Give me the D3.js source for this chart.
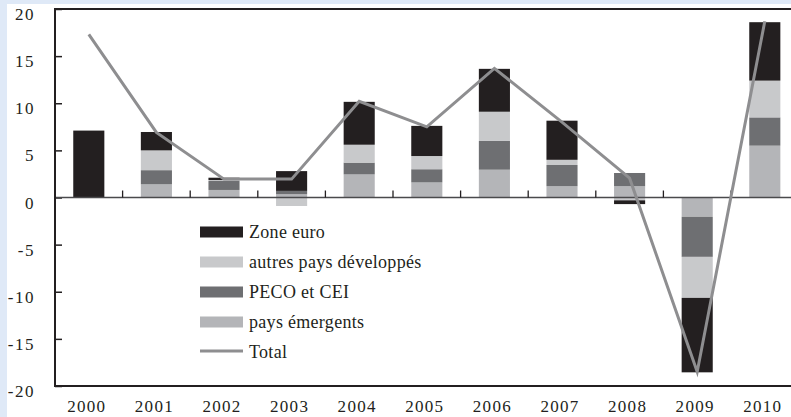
<!DOCTYPE html>
<html>
<head>
<meta charset="utf-8">
<script src="https://cdn.jsdelivr.net/npm/d3@7"></script>
<style>
	body { margin: 0; background: #dfe9f7; }
	svg { display: block; }
	text { font-family: "Liberation Serif", "DejaVu Serif", serif; fill: #231f20; }
</style>
</head>
<body>
<div class="container"></div>
<script>
// donnees
var years = [2000, 2001, 2002, 2003, 2004, 2005, 2006, 2007, 2008, 2009, 2010];
var zoneEuro  = [7.1, 1.95, 0.25, 2.1, 4.55, 3.2, 4.55, 4.15, -0.4, -7.9, 6.2];
var autresDev = [0, 2.1, 0.1, -0.9, 1.9, 1.4, 3.1, 0.55, -0.3, -4.35, 3.9];
var peco      = [0, 1.5, 0.95, 0.35, 1.25, 1.4, 3.05, 2.25, 1.4, -4.25, 3.0];
var emergents = [0, 1.4, 0.8, 0.35, 2.45, 1.6, 2.95, 1.2, 1.2, -2.05, 5.5];
var total     = [17.3, 6.9, 1.95, 1.95, 10.2, 7.5, 13.7, 8.0, 2.05, -18.5, 18.7];
var yTicks = [-20, -15, -10, -5, 0, 5, 10, 15, 20];

var series = [
	{key: 'emergents', label: 'pays émergents', color: '#b4b5b8', values: emergents},
	{key: 'peco', label: 'PECO et CEI', color: '#6e6f72', values: peco},
	{key: 'autres', label: 'autres pays développés', color: '#c8c9cb', values: autresDev},
	{key: 'zone', label: 'Zone euro', color: '#231f20', values: zoneEuro}
];

var width = 791, height = 417;
var plot = {left: 55, top: 9, bottom: 386, right: 55 + 11 * 67.6};

var rows = years.map(function(y, i) {
	var r = {year: y};
	series.forEach(function(s) { r[s.key] = s.values[i]; });
	return r;
});

var x = d3.scaleBand()
	.domain(years)
	.range([plot.left, plot.right])
	.paddingInner(0.54)
	.paddingOuter(0.27);

var y = d3.scaleLinear()
	.domain([-20, 20])
	.range([plot.bottom, plot.top]);

var stack = d3.stack()
	.keys(series.map(function(s) { return s.key; }))
	.offset(d3.stackOffsetDiverging);
var stacked = stack(rows);

var svg = d3.select('.container').append('svg')
	.attr('width', width)
	.attr('height', height);

svg.append('rect')
	.attr('x', 7).attr('y', 4)
	.attr('width', width - 7).attr('height', height - 4)
	.attr('fill', '#fff');

// barres empilees
stacked.forEach(function(layer, li) {
	svg.append('g')
		.attr('fill', series[li].color)
		.selectAll('rect')
		.data(layer)
		.enter()
		.append('rect')
		.attr('x', function(d) { return x(d.data.year); })
		.attr('width', x.bandwidth())
		.attr('y', function(d) { return y(Math.max(d[0], d[1])); })
		.attr('height', function(d) { return Math.abs(y(d[0]) - y(d[1])); });
});

// axe y (graduations vers l'interieur)
var yAxis = d3.axisLeft(y)
	.tickValues(yTicks)
	.tickSize(-7)
	.tickPadding(20)
	.tickFormat(function(d) { return d; });

var gy = svg.append('g')
	.attr('transform', 'translate(' + plot.left + ',0)')
	.call(yAxis);
gy.select('.domain').remove();
gy.selectAll('.tick line').attr('stroke', '#231f20').attr('stroke-width', 1.5);
gy.selectAll('.tick text')
	.attr('dy', '0.62em')
	.style('font-size', '17px')
	.style('letter-spacing', '1.5px')
	.style('font-family', '"Liberation Serif", serif')
	.attr('fill', '#231f20');

// ligne du zero + petites graduations entre les annees
var step = x.step();
var zeroY = y(0);
svg.append('line')
	.attr('x1', plot.left).attr('x2', width)
	.attr('y1', zeroY).attr('y2', zeroY)
	.attr('stroke', '#4a4a4c').attr('stroke-width', 1.5);

svg.append('g')
	.selectAll('line')
	.data(years.slice(1))
	.enter()
	.append('line')
	.attr('x1', function(d) { return x(d) - (step - x.bandwidth()) / 2; })
	.attr('x2', function(d) { return x(d) - (step - x.bandwidth()) / 2; })
	.attr('y1', zeroY - 7).attr('y2', zeroY)
	.attr('stroke', '#231f20').attr('stroke-width', 1.3);

// cadre
svg.append('line')
	.attr('x1', plot.left).attr('x2', width)
	.attr('y1', plot.top).attr('y2', plot.top)
	.attr('stroke', '#231f20').attr('stroke-width', 2.2);
svg.append('line')
	.attr('x1', plot.left).attr('x2', width)
	.attr('y1', plot.bottom).attr('y2', plot.bottom)
	.attr('stroke', '#231f20').attr('stroke-width', 2.2);
svg.append('line')
	.attr('x1', plot.left).attr('x2', plot.left)
	.attr('y1', plot.top - 1).attr('y2', plot.bottom + 1)
	.attr('stroke', '#231f20').attr('stroke-width', 2);

// labels des annees
svg.append('g')
	.selectAll('text')
	.data(years)
	.enter()
	.append('text')
	.attr('x', function(d) { return x(d) + x.bandwidth() / 2 - 2; })
	.attr('y', 412)
	.attr('text-anchor', 'middle')
	.style('font-size', '17px')
	.style('letter-spacing', '1.3px')
	.text(function(d) { return d; });

// ligne Total
var line = d3.line()
	.x(function(d, i) { return x(years[i]) + x.bandwidth() / 2; })
	.y(function(d) { return y(d); });

svg.append('path')
	.attr('d', line(total))
	.attr('fill', 'none')
	.attr('stroke', '#8e8e90')
	.attr('stroke-width', 3);

// legende
var legendItems = series.slice().reverse().concat([{label: 'Total', color: '#8e8e90', isLine: true}]);
var legend = svg.append('g');
legendItems.forEach(function(item, i) {
	var cy = 232 + i * 30;
	if (item.isLine) {
		legend.append('line')
			.attr('x1', 200).attr('x2', 243)
			.attr('y1', cy - 1).attr('y2', cy - 1)
			.attr('stroke', item.color).attr('stroke-width', 3);
	} else {
		legend.append('rect')
			.attr('x', 200).attr('y', cy - 5.5)
			.attr('width', 43).attr('height', 11)
			.attr('fill', item.color);
	}
	legend.append('text')
		.attr('x', 249).attr('y', cy + 6)
		.style('font-size', '18px')
		.style('letter-spacing', '0.3px')
		.text(item.label);
});
</script>
</body>
</html>
